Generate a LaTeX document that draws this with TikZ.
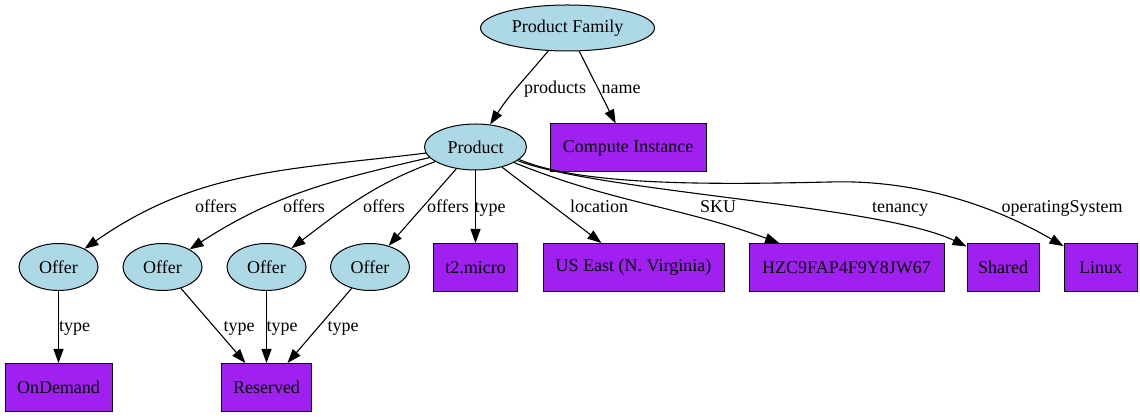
\documentclass[tikz,border=0pt]{standalone}
\usepackage{fontspec}
\setmainfont{Liberation Serif}
\usetikzlibrary{arrows.meta,shapes.geometric}
\definecolor{lb}{HTML}{ADD8E6}
\definecolor{pur}{HTML}{A020F0}
\begin{document}
\begin{tikzpicture}[x=1pt,y=1pt,
  txt/.style={font=\fontsize{18}{20}\selectfont},
  ell/.style={ellipse, draw=black, fill=lb, line width=1pt, inner sep=0pt, txt},
  rbox/.style={rectangle, draw=black, fill=pur, line width=1pt, inner sep=0pt, minimum height=48pt, txt},
  edge/.style={draw=black, line width=1.1pt, -{Triangle[length=14pt,width=10pt]}},
  lbl/.style={inner sep=0pt, anchor=base, txt}]
\useasboundingbox (0,0) rectangle (1140,419);
% nodes
\node[ell, minimum width=174pt, minimum height=46pt] (PF) at (567.5,391) {Product Family};
\node[ell, minimum width=102pt, minimum height=46pt] (P) at (475.5,272) {Product};
\node[rbox, minimum width=156pt] (CI) at (628,271) {Compute Instance};
\node[ell, minimum width=79pt, minimum height=47pt] (O1) at (58.5,152) {Offer};
\node[ell, minimum width=79pt, minimum height=47pt] (O2) at (162.5,152) {Offer};
\node[ell, minimum width=79pt, minimum height=47pt] (O3) at (266.5,152) {Offer};
\node[ell, minimum width=79pt, minimum height=47pt] (O4) at (370,152) {Offer};
\node[rbox, minimum width=84pt] (T2) at (475.5,151.5) {t2.micro};
\node[rbox, minimum width=181pt] (US) at (633.5,151.5) {US East (N. Virginia)};
\node[rbox, minimum width=195pt] (H) at (846.5,151.5) {HZC9FAP4F9Y8JW67};
\node[rbox, minimum width=72pt] (S) at (1003,151.5) {Shared};
\node[rbox, minimum width=73pt] (L) at (1100.5,151.5) {Linux};
\node[rbox, minimum width=107pt] (OD) at (58.5,31.5) {OnDemand};
\node[rbox, minimum width=90pt] (R) at (266.5,31.5) {Reserved};
\coordinate (LM) at (830,237);
% edges
\draw[edge] (PF) to[out=230,in=57] (P);
\draw[edge] (PF) -- (CI);
\draw[edge] (P) to[out=187,in=35] (O1);
\draw[edge] (P) to[out=193,in=33] (O2);
\draw[edge] (P) to[out=200,in=37] (O3);
\draw[edge] (P) -- (O4);
\draw[edge] (P) -- (T2);
\draw[edge] (P) -- (US);
\draw[edge] (P) to[out=-22,in=160] (H);
\draw[edge] (P.-18) .. controls (600,227) and (880,214) .. (S.150);
\draw[edge] (P.-16) .. controls (580,234) and (700,234) .. (LM) .. controls (930,240) and (1010,204) .. (L.150);
\draw[edge] (O1) -- (OD);
\draw[edge] (O2) -- (R);
\draw[edge] (O3) -- (R);
\draw[edge] (O4) -- (R);
% labels
\node[lbl] (lprod) at (555,325.5) {products};
\node[lbl] (lname) at (621,325.5) {name};
\node[lbl] (lo1) at (216,206) {offers};
\node[lbl] (lo2) at (304,206) {offers};
\node[lbl] (lo3) at (384,206) {offers};
\node[lbl] (lo4) at (448,206) {offers};
\node[lbl] (ltype) at (490,206) {type};
\node[lbl] (lloc) at (599,206) {location};
\node[lbl] (lsku) at (718,206) {SKU};
\node[lbl] (lten) at (900,206) {tenancy};
\node[lbl] (los) at (1062,206) {operatingSystem};
\node[lbl] (lt1) at (74.5,87) {type};
\node[lbl] (lt2) at (239,87) {type};
\node[lbl] (lt3) at (282,87) {type};
\node[lbl] (lt4) at (343,87) {type};
\end{tikzpicture}
\end{document}
